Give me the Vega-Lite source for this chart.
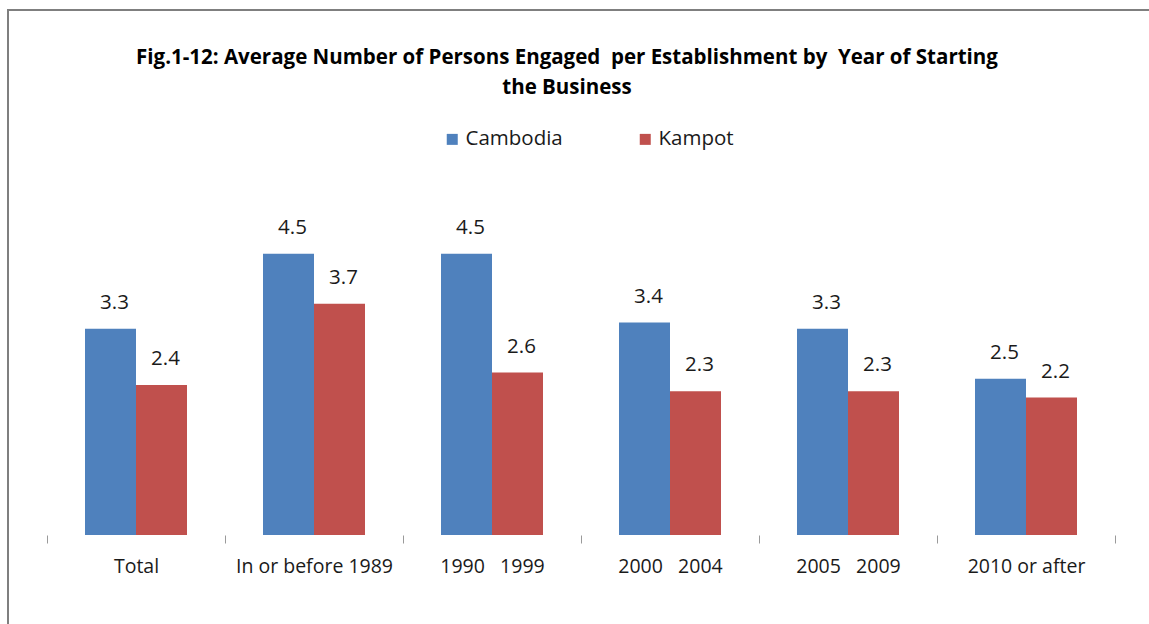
{
  "$schema": "https://vega.github.io/schema/vega-lite/v6.json",
  "autosize": {"type": "none"},
  "padding": {"left": 8, "top": 10, "right": 0, "bottom": 0},
  "width": 1150,
  "height": 620,
  "background": "white",
  "config": {
    "view": {"stroke": "#7f7f7f", "strokeWidth": 2},
    "font": "Open Sans"
  },
  "title": {
    "text": ["Fig.1-12: Average Number of Persons Engaged\u00a0 per Establishment by\u00a0 Year of Starting", "the Business"],
    "font": "Open Sans",
    "fontSize": 20.5,
    "fontWeight": "bold",
    "color": "#000000",
    "anchor": "middle",
    "frame": "group",
    "offset": -88,
    "dx": -16,
    "lineHeight": 30
  },
  "data": {
    "values": [
      {"period": "Total", "region": "Cambodia", "value": 3.3},
      {"period": "Total", "region": "Kampot", "value": 2.4},
      {"period": "In or before 1989", "region": "Cambodia", "value": 4.5},
      {"period": "In or before 1989", "region": "Kampot", "value": 3.7},
      {"period": "1990\u00a0\u00a0\u00a01999", "region": "Cambodia", "value": 4.5},
      {"period": "1990\u00a0\u00a0\u00a01999", "region": "Kampot", "value": 2.6},
      {"period": "2000\u00a0\u00a0\u00a02004", "region": "Cambodia", "value": 3.4},
      {"period": "2000\u00a0\u00a0\u00a02004", "region": "Kampot", "value": 2.3},
      {"period": "2005\u00a0\u00a0\u00a02009", "region": "Cambodia", "value": 3.3},
      {"period": "2005\u00a0\u00a0\u00a02009", "region": "Kampot", "value": 2.3},
      {"period": "2010 or after", "region": "Cambodia", "value": 2.5},
      {"period": "2010 or after", "region": "Kampot", "value": 2.2}
    ]
  },
  "encoding": {
    "x": {
      "field": "period",
      "type": "nominal",
      "sort": null,
      "scale": {"range": [39, 1107], "paddingInner": 0, "paddingOuter": 0},
      "axis": {
        "title": null,
        "orient": "bottom",
        "offset": -95,
        "domain": false,
        "grid": false,
        "tickBand": "extent",
        "tickColor": "#9a9a9a",
        "tickSize": 8,
        "labelAngle": 0,
        "labelFont": "Open Sans",
        "labelFontSize": 19.5,
        "labelColor": "#1a1a1a",
        "labelPadding": 14
      }
    },
    "xOffset": {
      "field": "region",
      "type": "nominal",
      "scale": {"paddingInner": 0, "paddingOuter": 0.745}
    },
    "y": {
      "field": "value",
      "type": "quantitative",
      "scale": {"domain": [0, 5], "range": [525, 212.5], "nice": false, "zero": true},
      "axis": null
    }
  },
  "layer": [
    {
      "mark": {"type": "bar"},
      "encoding": {
        "color": {
          "field": "region",
          "type": "nominal",
          "scale": {"domain": ["Cambodia", "Kampot"], "range": ["#4f81bd", "#c0504d"]},
          "legend": {
            "title": null,
            "orient": "none",
            "direction": "horizontal",
            "legendX": 434,
            "legendY": 119,
            "symbolType": "square",
            "symbolSize": 121,
            "symbolStrokeWidth": 0,
            "labelFont": "Open Sans",
            "labelFontSize": 20.5,
            "labelColor": "#1a1a1a",
            "labelOffset": 3,
            "columnPadding": 72
          }
        }
      }
    },
    {
      "mark": {"type": "text", "baseline": "bottom", "dy": -16, "dx": 4, "font": "Open Sans", "fontSize": 20.5, "color": "#1a1a1a"},
      "encoding": {
        "text": {"field": "value", "type": "quantitative", "format": ".1f"}
      }
    }
  ]
}
